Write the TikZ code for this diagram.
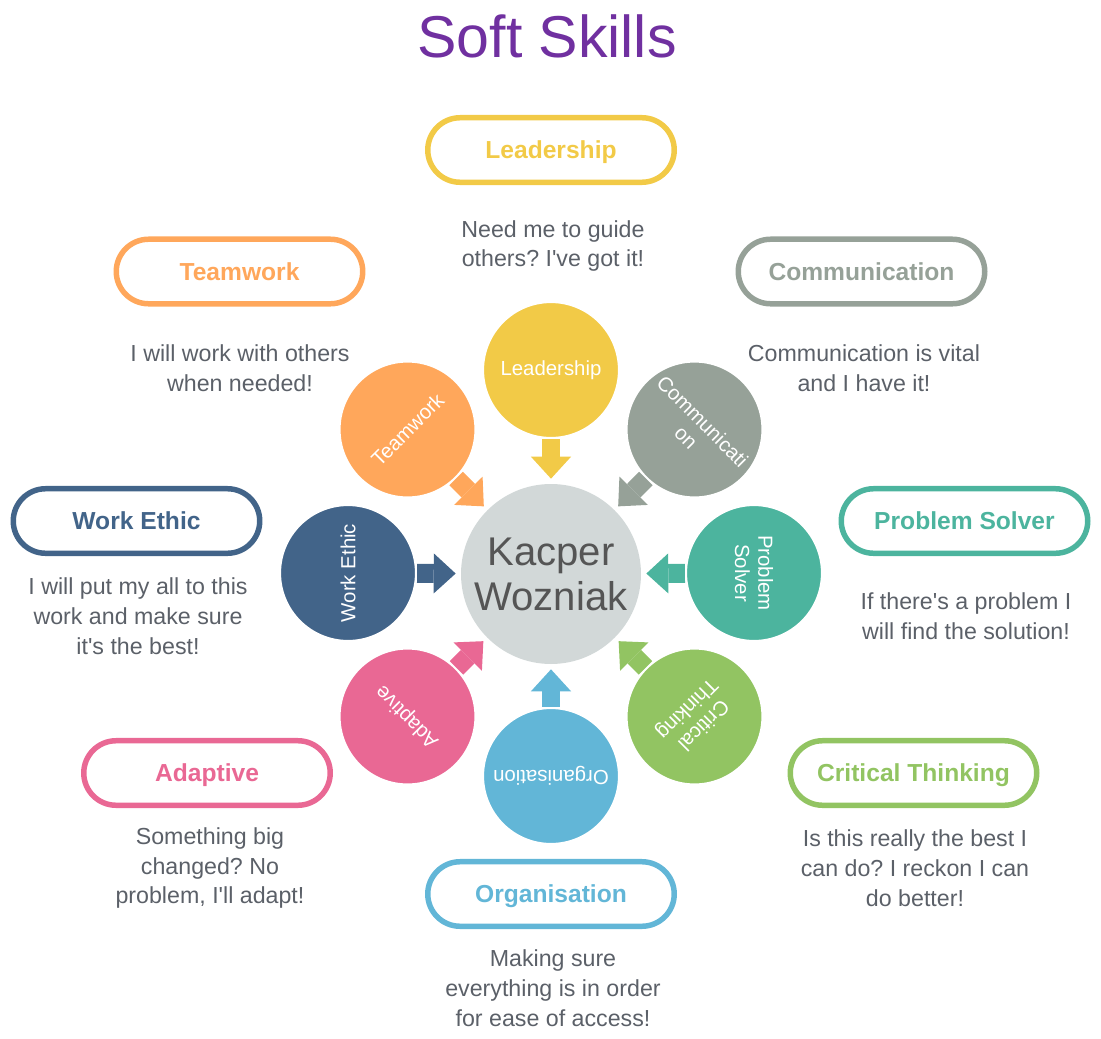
\documentclass[tikz,border=0pt]{standalone}
\usepackage{fontspec}
\setmainfont{Liberation Sans}[Ligatures=TeXOff]
\usepackage{tikz}
\usetikzlibrary{arrows.meta,positioning,calc}
\usepackage{xcolor}
\definecolor{collead}{HTML}{F2CA47}
\definecolor{colteam}{HTML}{FFA75B}
\definecolor{colcomm}{HTML}{96A198}
\definecolor{colwork}{HTML}{426489}
\definecolor{colprob}{HTML}{4CB49E}
\definecolor{colcrit}{HTML}{92C462}
\definecolor{colorg}{HTML}{62B6D7}
\definecolor{coladap}{HTML}{E96894}
\definecolor{colcore}{HTML}{D2D8D8}
\definecolor{colname}{HTML}{555555}
\definecolor{coltext}{HTML}{5B6068}
\definecolor{coltitle}{HTML}{7030A0}
\frenchspacing

\begin{document}
\begin{tikzpicture}[
  x=0.025cm, y=-0.025cm,
  core/.style={circle,fill=colcore,minimum size=128pt,inner sep=0pt,
    text=colname,align=center,font=\fontsize{28.5}{32}\selectfont},
  bubble/.style={circle,fill=#1,draw=white,line width=1.5pt,minimum size=96.7pt,
    inner sep=0pt,text=white,align=center,font=\fontsize{14.5}{16.5}\selectfont},
  pill/.style={draw=#1,line width=3.9pt,rounded corners=23pt,minimum width=175.3pt,
    minimum height=45.9pt,text height=12.6pt,text depth=0pt,text=#1,
    font=\fontsize{17.5}{20}\selectfont\bfseries},
  blurb/.style={text=coltext,align=center,font=\fontsize{16.5}{21.3}\selectfont},
  feed/.style={draw=#1,line width=13.5pt,shorten >=3.6pt,
    -{Triangle[width=28.5pt,length=15.6pt,line width=0pt]}},
]
  % marco fijo: el lienzo tiene las medidas de la imagen (en pixeles)
  \useasboundingbox (0,0) rectangle (1101,1039);

  \node[text=coltitle,font=\fontsize{42}{48}\selectfont,anchor=base]
       (title) at (547,57) {Soft Skills};

  \node[core] (ctr) at (551,574) {Kacper\\Wozniak};

  % circulos alrededor, a 203 px del centro
  \node[bubble=collead] (lead) at (551,370)     {Leadership};
  \node[bubble=colcomm,rotate=-45] (comm) at (694.5,429.5) {Communicati\\on};
  \node[bubble=colprob,rotate=-90] (prob) at (754,573)     {Problem\\Solver};
  \node[bubble=colcrit,rotate=-135] (crit) at (694.5,716.5) {Critical\\Thinking};
  \node[bubble=colorg,rotate=180] (org) at (551,776)        {Organisation};
  \node[bubble=coladap,rotate=135] (adap) at (407.5,716.5)  {Adaptive};
  \node[bubble=colwork,rotate=90] (work) at (348,573)       {Work Ethic};
  \node[bubble=colteam,rotate=45] (team) at (407.5,429.5)   {Teamwork};

  % flechas gruesas hacia el centro
  \draw[feed=collead] (lead) -- (ctr);
  \draw[feed=colcomm] (comm) -- (ctr);
  \draw[feed=colprob] (prob) -- (ctr);
  \draw[feed=colcrit] (crit) -- (ctr);
  \draw[feed=colorg]  (org)  -- (ctr);
  \draw[feed=coladap] (adap) -- (ctr);
  \draw[feed=colwork] (work) -- (ctr);
  \draw[feed=colteam] (team) -- (ctr);

  % rotulos en pastilla y su texto debajo
  \node[pill=collead] (plead) at (551,150)   {Leadership};
  \node[blurb] (tlead) at (553,246) {Need me to guide\\others? I've got it!};

  \node[pill=colteam] (pteam) at (239.5,271.5) {Teamwork};
  \node[blurb] (tteam) at (240,368) {I will work with others\\when needed!};

  \node[pill=colcomm] (pcomm) at (861.5,271.5) {Communication};
  \node[blurb] (tcomm) at (864,368) {Communication is vital\\and I have it!};

  \node[pill=colwork] (pwork) at (136.5,521) {Work Ethic};
  \node[blurb] (twork) at (138,616)
       {I will put my all to this\\work and make sure\\it's the best!};

  \node[pill=colprob] (pprob) at (964.5,521) {Problem Solver};
  \node[blurb] (tprob) at (966,616) {If there's a problem I\\will find the solution!};

  \node[pill=coladap] (padap) at (207,773) {Adaptive};
  \node[blurb] (tadap) at (210,868)
       {Something big\\changed? No\\problem, I'll adapt!};

  \node[pill=colcrit] (pcrit) at (913.5,773) {Critical Thinking};
  \node[blurb] (tcrit) at (915,868)
       {Is this really the best I\\can do? I reckon I can\\do better!};

  \node[pill=colorg] (porg) at (551,894) {Organisation};
  \node[blurb] (torg) at (553,988)
       {Making sure\\everything is in order\\for ease of access!};
\end{tikzpicture}
\end{document}
